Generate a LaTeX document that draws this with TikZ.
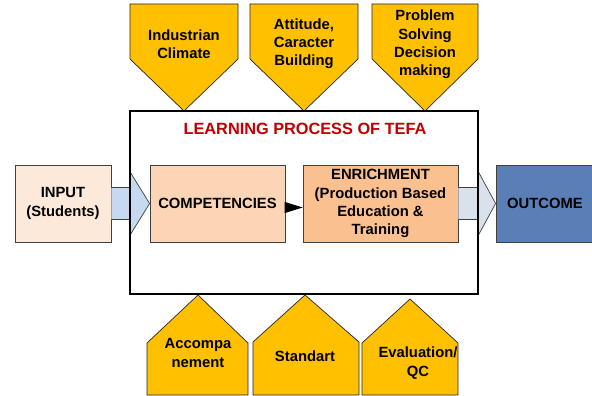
\documentclass[tikz,border=0pt]{standalone}
\usepackage{fontspec}
\setmainfont{Liberation Sans}
\usetikzlibrary{calc,arrows.meta}
\definecolor{gold}{HTML}{FFC000}
\definecolor{edge}{HTML}{404040}
\definecolor{inputfill}{HTML}{FDE9D9}
\definecolor{compfill}{HTML}{FBD5B5}
\definecolor{enrichfill}{HTML}{FAC090}
\definecolor{outfill}{HTML}{5A7FB7}
\definecolor{inarrow}{HTML}{C6D9F1}
\definecolor{outarrow}{HTML}{D9E1EC}
\definecolor{titlered}{HTML}{C00000}
\begin{document}
\begin{tikzpicture}[x=1pt,y=-1pt,
  lbl/.style={font=\fontsize{14.8}{18.2}\selectfont\bfseries, align=center, inner sep=0pt},
  stage/.style={draw=edge, line width=0.8pt, minimum height=77pt, inner sep=0pt, lbl},
  pent/.style={fill=gold, draw=black!85, line width=0.7pt, line join=miter},
  fatarrow/.style={draw=edge, line width=0.7pt, line join=miter}]
\useasboundingbox[fill=white] (0,0) rectangle (592,396);

% factors feeding the learning process from above
\draw[pent] (130,4) -- (238,4) -- (238,59) -- (184,111) -- (130,59) -- cycle;
\draw[pent] (250,4) -- (358,4) -- (358,59) -- (304,111) -- (250,59) -- cycle;
\draw[pent] (372,4) -- (478,4) -- (478,59) -- (425,111) -- (372,59) -- cycle;
\node[lbl] (climate) at (184,44.5) {Industrian\\Climate};
\node[lbl] (attitude) at (304,43.5) {Attitude,\\Caracter\\Building};
\node[lbl] (problem) at (425,44.5) {Problem\\Solving\\Decision\\making};

% supporting factors from below
\draw[pent] (147,395) -- (147,343) -- (198,295) -- (248,343) -- (248,395) -- cycle;
\draw[pent] (253,395) -- (253,342) -- (305,295) -- (359,342) -- (359,395) -- cycle;
\draw[pent] (362,395) -- (362,343) -- (410,299) -- (458,343) -- (458,395) -- cycle;
\node[lbl] (accomp) at (198,353) {Accompa\\nement};
\node[lbl] (standart) at (305,356) {Standart};
\node[lbl] (evaluation) at (418,363) {Evaluation/\\QC};

% stages
\node[stage, fill=inputfill, minimum width=96pt] (input) at (63,203.5) {INPUT\\(Students)};
\node[stage, fill=compfill, minimum width=135pt] (comp) at (217.5,203.5) {COMPETENCIES};
\node[stage, fill=enrichfill, minimum width=155pt] (enrich) at (380.5,203.5)
  {ENRICHMENT\\(Production Based\\Education \&\\Training};
\node[stage, fill=outfill, minimum width=98pt] (outcome) at (545,203.5) {OUTCOME};

% learning process frame (outline drawn last)
\node[minimum width=348pt, minimum height=183pt, inner sep=0pt] (tefa) at (304,202.5) {};
\node[font=\fontsize{16.3}{19}\selectfont\bfseries, text=titlered, inner sep=0pt]
  (title) at (305,129) {LEARNING PROCESS OF TEFA};

% block arrows into and out of the process
\coordinate (ia) at (input.east -| tefa.west);
\draw[fatarrow, fill=inarrow]
  ([yshift=16pt]input.east) -- ([yshift=16pt]ia) -- ([yshift=32pt]ia) -- (comp.west)
  -- ([yshift=-32pt]ia) -- ([yshift=-16pt]ia) -- ([yshift=-16pt]input.east);
\coordinate (oa) at (enrich.east -| tefa.east);
\draw[fatarrow, fill=outarrow]
  ([yshift=16pt]enrich.east) -- ([yshift=16pt]oa) -- ([yshift=32pt]oa) -- (outcome.west)
  -- ([yshift=-32pt]oa) -- ([yshift=-16pt]oa) -- ([yshift=-16pt]enrich.east);

\draw[line width=0.8pt, -{Triangle[length=18pt,width=11pt]}]
  ([yshift=-4pt]comp.east) -- ([yshift=-4pt]enrich.west);

\draw[line width=1.6pt] (tefa.north west) rectangle (tefa.south east);
\end{tikzpicture}
\end{document}
